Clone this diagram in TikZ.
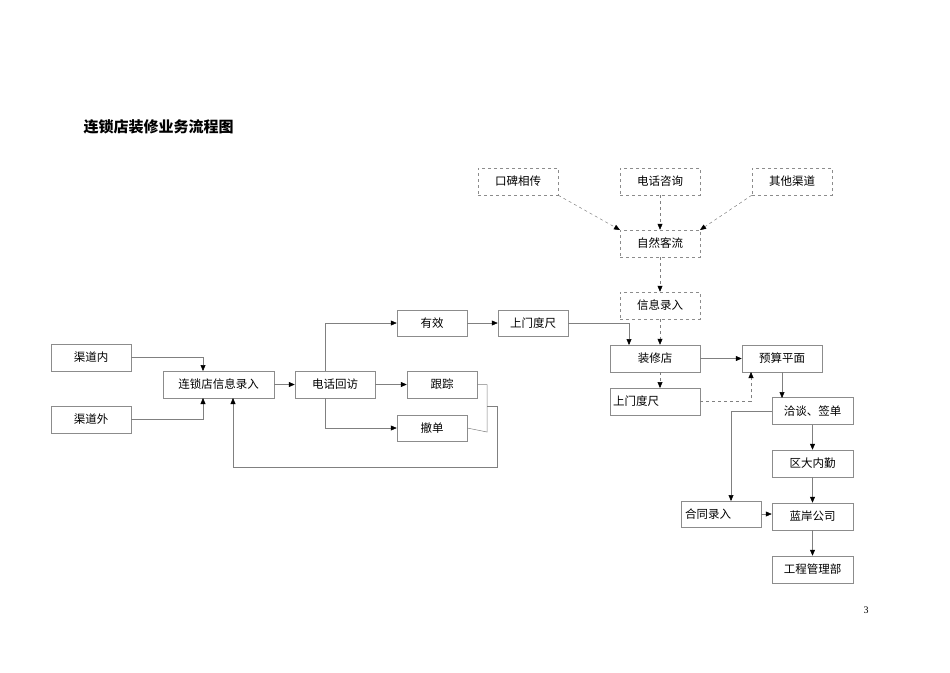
\documentclass[tikz,border=0pt]{standalone}
\usepackage{fontspec}
\setmainfont{Liberation Serif}
\newfontfamily\cjk{Noto Sans CJK SC}
\usetikzlibrary{arrows.meta}
\begin{document}
\begin{tikzpicture}[x=1pt,y=-1pt,
  bx/.style={draw=black!45,line width=0.5pt,minimum height=27pt,inner sep=0pt,font=\cjk\fontsize{11.5}{13}\selectfont},
  db/.style={bx,dashed},
  ln/.style={draw=black!50,line width=0.5pt,-{Triangle[length=6pt,width=5pt,black]}},
  dl/.style={ln,dashed}]
\useasboundingbox (0,0) rectangle (950,672);
\node[anchor=west,font=\cjk\bfseries\fontsize{15}{17}\selectfont] (title) at (80,127) {连锁店装修业务流程图};
\node[font=\fontsize{10}{12}\selectfont] (pg) at (866,610) {3};
\newcommand{\bxat}[5]{\node[#1,minimum width=#4-#3 pt,minimum height=#5 pt] (#2) at ({(#3+#4)/2},0) {};}
\node[db,minimum width=80pt] (kb) at (518,181.5) {口碑相传};
\node[db,minimum width=80pt] (dz) at (660,181.5) {电话咨询};
\node[db,minimum width=80pt] (qt) at (792,181.5) {其他渠道};
\node[db,minimum width=80pt] (zr) at (660,243.5) {自然客流};
\node[db,minimum width=80pt] (xx) at (660,305.5) {信息录入};
\node[bx,minimum width=90pt] (zx) at (655,358.5) {装修店};
\node[bx,minimum width=90pt,text width=84pt,align=left] (sm2) at (655,401.5) {上门度尺};
\node[bx,minimum width=80pt] (ys) at (782,358.5) {预算平面};
\node[bx,minimum width=81pt] (qd) at (812.5,411) {洽谈、签单};
\node[bx,minimum width=81pt] (qn) at (812.5,463.5) {区大内勤};
\node[bx,minimum width=81pt] (la) at (812.5,516.5) {蓝岸公司};
\node[bx,minimum width=81pt] (gc) at (812.5,569.5) {工程管理部};
\node[bx,minimum width=80pt,minimum height=26pt,text width=72pt,align=left] (ht) at (721,514) {合同录入};
\node[bx,minimum width=80pt] (nei) at (91,357.5) {渠道内};
\node[bx,minimum width=80pt] (wai) at (91,419.5) {渠道外};
\node[bx,minimum width=111pt] (ls) at (218.5,384.5) {连锁店信息录入};
\node[bx,minimum width=80pt] (dh) at (335,384.5) {电话回访};
\node[bx,minimum width=70pt,minimum height=26pt] (yx) at (432,323) {有效};
\node[bx,minimum width=70pt] (gz) at (442,384.5) {跟踪};
\node[bx,minimum width=70pt,minimum height=26pt] (cd) at (432,428) {撤单};
\node[bx,minimum width=70pt,minimum height=26pt] (sm1) at (533,323) {上门度尺};
\draw[dl] (kb.south east) -- (620,230);
\draw[dl] (dz) -- (zr);
\draw[dl] (qt.south west) -- (700,230);
\draw[dl] (zr) -- (xx);
\draw[dl] (xx) -- (xx|-zx.north);
\draw[ln] (sm1.east) -| (629,345);
\draw[ln] (zx) -- (ys);
\draw[dl] (zx.south-|660,0) -- (660,388);
\draw[dl] (sm2.east) -| (751,372);
\draw[ln] (782,372) -- (782,398);
\draw[ln] (qd.west) -| (731,501);
\draw[ln] (qd) -- (qn);
\draw[ln] (qn) -- (la);
\draw[ln] (la) -- (gc);
\draw[ln] (ht.east) -- (la.west|-ht.east);
\draw[ln] (nei.east) -| (203,371);
\draw[ln] (wai.east) -| (203,398);
\draw[ln] (ls) -- (dh);
\draw[ln] (325,371) |- (yx.west);
\draw[ln] (dh) -- (gz);
\draw[ln] (325,398) |- (cd.west);
\draw[ln] (yx) -- (sm1);
\draw[draw=black!50,line width=0.5pt] (gz.east) -- (487,384.5) -- (487,432) -- (cd.east);
\draw[ln] (487,406) -- (497,406) -- (497,467) -- (233,467) -- (233,398);
\end{tikzpicture}
\end{document}
